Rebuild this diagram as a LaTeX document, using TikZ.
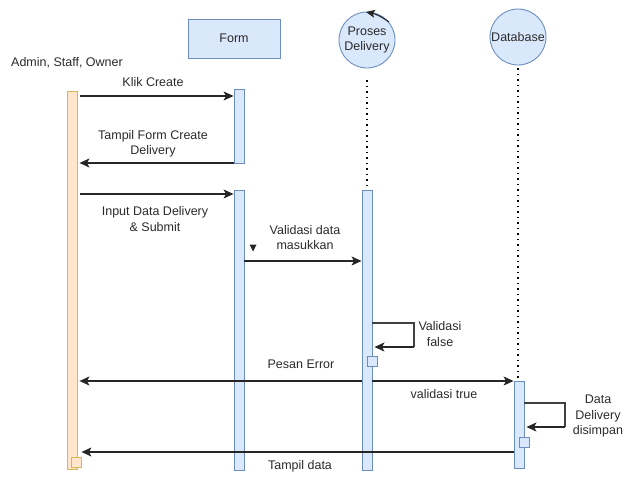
\documentclass[tikz,border=0pt]{standalone}
\usepackage{fontspec}
\setmainfont{Liberation Sans}
\usetikzlibrary{arrows.meta}
\definecolor{bluefill}{HTML}{DAE8FC}
\definecolor{blueline}{HTML}{6C8EBF}
\definecolor{orfill}{HTML}{FFE6CC}
\definecolor{orline}{HTML}{D6B656}
\definecolor{txt}{HTML}{2A2A2A}
\begin{document}
\begin{tikzpicture}[x=1pt,y=-1pt,
  lbl/.style={font=\fontsize{12.5}{15.5}\selectfont, text=txt, align=center, inner sep=0pt},
  bluebar/.style={draw=blueline, fill=bluefill, line width=0.9pt},
  orbar/.style={draw=orline, fill=orfill, line width=0.9pt},
  lifeline/.style={line width=1.5pt, dash pattern=on 1.5pt off 4pt, black},
  msg/.style={draw=black!85, line width=1.1pt, -{Stealth[length=10pt,width=9pt,inset=2.5pt]}},
  loopline/.style={draw=black!75, line width=1.1pt}
]
\useasboundingbox (0,0) rectangle (627,477);

% participants
\node[draw=blueline, fill=bluefill, line width=0.9pt, minimum width=92pt, minimum height=39pt, lbl] (form) at (234,38.5) {Form};
\node[lbl, anchor=west] (actor) at (11,63) {Admin, Staff, Owner};
\node[circle, draw=blueline, fill=bluefill, line width=0.9pt, minimum size=56pt, inner sep=0pt, lbl] (proses) at (367,40) {Proses\\Delivery};
\node[circle, draw=blueline, fill=bluefill, line width=0.9pt, minimum size=56pt, inner sep=0pt, lbl] (db) at (518,37) {Database};

% control symbol on top of the process circle
\coordinate (ctlA) at (389,22);
\coordinate (ctlB) at (366,12);
\draw[draw=black!85, line width=1.1pt, -{Stealth[length=9pt,width=8pt,inset=2pt]}] (ctlA) to[bend right=12] (ctlB);

% lifelines
\coordinate (pl1) at (367,80);
\coordinate (pl2) at (367,190);
\draw[lifeline] (pl1) -- (pl2);
\coordinate (dl1) at (518,68);
\coordinate (dl2) at (518,380);
\draw[lifeline] (dl1) -- (dl2);

% activation bars
\node[orbar, minimum width=10pt, minimum height=378pt, inner sep=0pt, anchor=north] (act) at (72,91) {};
\node[orbar, minimum width=10pt, minimum height=10pt, inner sep=0pt] (actsq) at (76.5,462) {};
\node[bluebar, minimum width=10pt, minimum height=74pt, inner sep=0pt, anchor=north] (f1) at (239,89) {};
\node[bluebar, minimum width=10pt, minimum height=280pt, inner sep=0pt, anchor=north] (f2) at (239,190) {};
\node[bluebar, minimum width=10pt, minimum height=280pt, inner sep=0pt, anchor=north] (p1) at (367,190) {};
\node[bluebar, minimum width=10pt, minimum height=10pt, inner sep=0pt] (psq) at (372.5,361) {};
\node[bluebar, minimum width=10pt, minimum height=87pt, inner sep=0pt, anchor=north] (d1) at (519,381) {};
\node[bluebar, minimum width=10pt, minimum height=10pt, inner sep=0pt] (dsq) at (524,442) {};

% messages
\draw[msg] ([xshift=3pt]act.east |- 0,96) -- (f1.west |- 0,96);
\node[lbl] (m1) at (153,82) {Klik Create};

\draw[msg] (f1.west |- 0,163) -- ([xshift=2pt]act.east |- 0,163);
\node[lbl] (m2) at (153,144) {Tampil Form Create\\Delivery};

\draw[msg] ([xshift=3pt]act.east |- 0,194) -- (f2.west |- 0,194);
\node[lbl] (m3) at (155,219) {Input Data Delivery\\\& Submit};

\draw[msg] (f2.east |- 0,261) -- (p1.west |- 0,261);
\node[lbl] (m4) at (305,237.5) {Validasi data\\masukkan};
% small downward marker below the form bar
\coordinate (tri) at (253,248);
\fill[black!85] ([xshift=-3.5pt,yshift=3.5pt]tri) -- ([xshift=3.5pt,yshift=3.5pt]tri) -- ([yshift=-3.5pt]tri) -- cycle;

% self call: validation fails
\coordinate (vf1) at (414,323);
\coordinate (vf2) at (414,347);
\draw[loopline] (p1.east |- vf1) -- (vf1) -- (vf2);
\draw[msg] (vf2) -- ([xshift=2pt]p1.east |- vf2);
\node[lbl] (m5) at (440,334) {Validasi\\false};

\draw[msg] (p1.west |- 0,381) -- ([xshift=2pt]act.east |- 0,381);
\node[lbl] (m6) at (301,364) {Pesan Error};

\draw[msg] (p1.east |- 0,381) -- (d1.west |- 0,381);
\node[lbl] (m7) at (444,394) {validasi true};

% self call: data stored
\coordinate (ds1) at (565,403);
\coordinate (ds2) at (565,427);
\draw[loopline] (d1.east |- ds1) -- (ds1) -- (ds2);
\draw[msg] (ds2) -- ([xshift=2pt]d1.east |- ds2);
\node[lbl] (m8) at (598,416) {Data\\Delivery\\disimpan};

\draw[msg] (d1.west |- 0,452) -- ([xshift=4pt]act.east |- 0,452);
\node[lbl] (m9) at (300,466) {Tampil data};
\end{tikzpicture}
\end{document}
